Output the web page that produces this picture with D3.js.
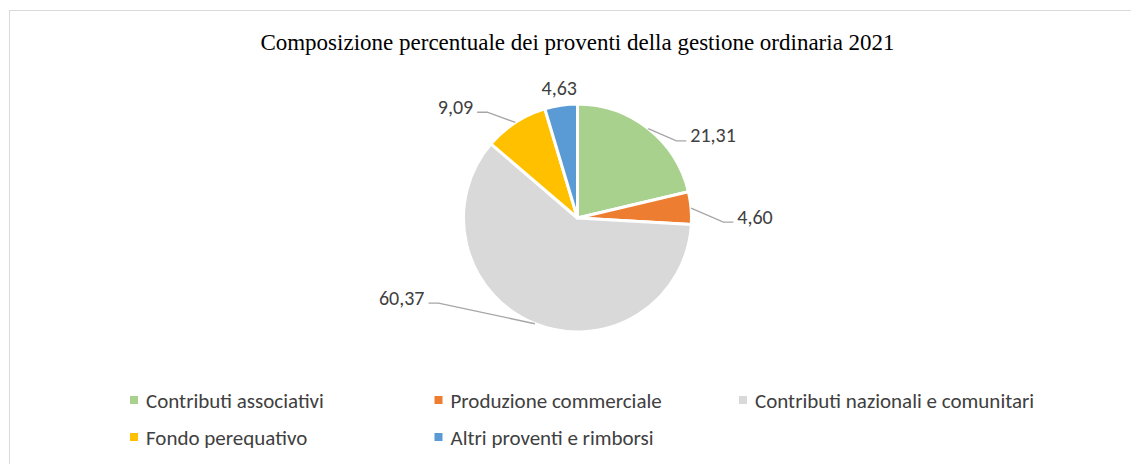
<!DOCTYPE html>
<html>
<head>
<meta charset="utf-8">
<script src="https://cdn.jsdelivr.net/npm/d3@7"></script>
<style>
  body { margin: 0; background: #fff; }
  svg { display: block; }
</style>
</head>
<body>
<div id="chart"></div>
<script>
// data
var categories = ["Contributi associativi", "Produzione commerciale", "Contributi nazionali e comunitari", "Fondo perequativo", "Altri proventi e rimborsi"];
var values = [21.31, 4.60, 60.37, 9.09, 4.63];
var colors = ["#a9d18e", "#ed7d31", "#d9d9d9", "#ffc000", "#5b9bd5"];
var title = "Composizione percentuale dei proventi della gestione ordinaria 2021";

// where excel put the labels: elbow angle (deg) and radius factor
var labelAngle = [52, 91.6, 238.5, 319.5, 352];
var labelRadius = [1.10, 1.28, 1.43, 1.22, 1.15];
var hasLeader = [true, true, true, true, false];

var width = 1131, height = 464;
var cx = 577.5, cy = 218, r = 114;

var it = d3.formatLocale({ decimal: ",", thousands: ".", grouping: [3], currency: ["€", ""] });
var fmt = it.format(".2f");

var svg = d3.select("#chart").append("svg").attr("width", width).attr("height", height);

// frame (right and bottom edges fall outside the picture)
svg.append("rect").attr("x", 9.5).attr("y", 10.5).attr("width", width + 20).attr("height", height + 20)
    .attr("fill", "#fff").attr("stroke", "#d9d9d9").attr("stroke-width", 1);

svg.append("text").attr("x", cx).attr("y", 50).attr("text-anchor", "middle")
    .attr("font-family", "'Book Antiqua', Palatino, 'Liberation Serif', serif").attr("font-size", 23)
    .attr("fill", "#000").text(title);

var pie = d3.pie().sort(null).value(d => d);
var arcs = pie(values);
var arc = d3.arc().innerRadius(0).outerRadius(r);

var g = svg.append("g").attr("transform", "translate(" + cx + "," + cy + ")");

g.selectAll("path.slice").data(arcs).enter().append("path").attr("class", "slice")
    .attr("d", arc).attr("fill", (d, i) => colors[i])
    .attr("stroke", "#fff").attr("stroke-width", 3).attr("stroke-linejoin", "round");

function polar(deg, rad) {
    var a = deg * Math.PI / 180;
    return [rad * Math.sin(a), -rad * Math.cos(a)];
}

arcs.forEach(function (d, i) {
    var mid = (d.startAngle + d.endAngle) / 2 * 180 / Math.PI;
    var e = polar(labelAngle[i], r * labelRadius[i]);
    var right = e[0] > 0;
    if (hasLeader[i]) {
        var s = polar(mid, r);
        var h = [e[0] + (right ? 10 : -10), e[1]];
        g.append("polyline").attr("points", [s, e, h].map(p => p.join(",")).join(" "))
            .attr("fill", "none").attr("stroke", "#a6a6a6").attr("stroke-width", 1.3);
        g.append("text").attr("x", h[0] + (right ? 4 : -4)).attr("y", e[1] + 1.5)
            .attr("text-anchor", right ? "start" : "end")
            .attr("font-family", "Carlito, Lato, sans-serif").attr("font-size", 20)
            .attr("fill", "#404040").text(fmt(values[i]));
    } else {
        g.append("text").attr("x", e[0]).attr("y", e[1] + 7).attr("text-anchor", "middle")
            .attr("font-family", "Carlito, Lato, sans-serif").attr("font-size", 20)
            .attr("fill", "#404040").text(fmt(values[i]));
    }
});

// legend, 3 per row
var leg = svg.append("g").selectAll("g").data(categories).enter().append("g")
    .attr("transform", (d, i) => "translate(" + (130 + (i % 3) * 304.5) + "," + (400 + Math.floor(i / 3) * 37) + ")");
leg.append("rect").attr("x", 0).attr("y", -4).attr("width", 8).attr("height", 8).attr("fill", (d, i) => colors[i]);
leg.append("text").attr("x", 16).attr("y", 8).attr("font-family", "Carlito, Lato, sans-serif").attr("font-size", 21)
    .attr("fill", "#404040").text(d => d);
</script>
</body>
</html>
